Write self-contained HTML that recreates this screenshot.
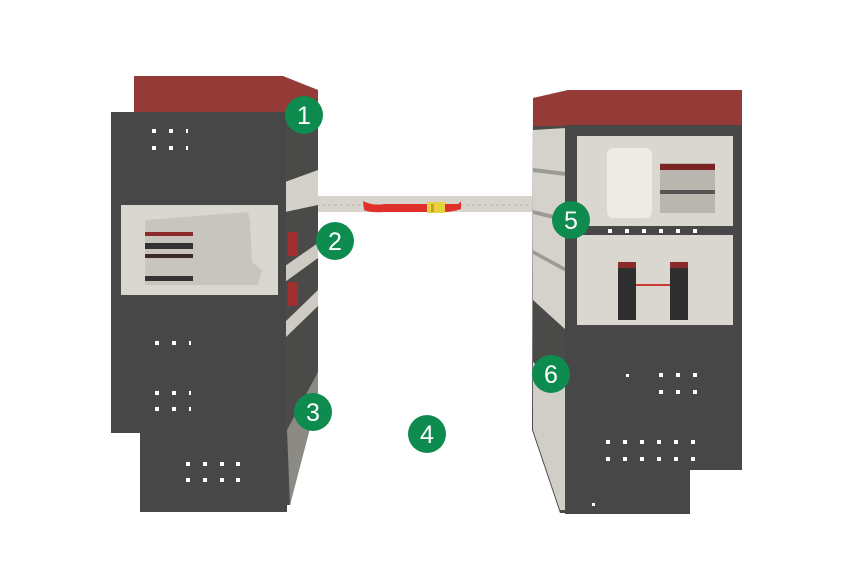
<!DOCTYPE html>
<html><head><meta charset="utf-8"><style>html,body{margin:0;padding:0;background:#fff}svg{display:block}</style></head>
<body>
<svg width="860" height="580" viewBox="0 0 860 580" xmlns="http://www.w3.org/2000/svg" font-family="Liberation Sans, sans-serif">
<!-- beam -->
<rect x="316" y="196" width="216" height="16" fill="#d6d4cc"/>
<line x1="316" y1="205" x2="532" y2="205" stroke="#b5b3ab" stroke-width="1" stroke-dasharray="3 3"/>
<path d="M363 201 Q372 206 385 204 L428 204 L428 212 L385 212 Q370 213 364 210 Z" fill="#e0302a"/>
<path d="M444 204 L458 204 Q461 202 461 201 L461 209 Q452 212 444 212 Z" fill="#e0302a"/>
<rect x="427" y="202" width="18" height="11" fill="#e6d23a"/>
<rect x="431" y="204" width="3" height="8" fill="#c9a020"/>
<!-- LEFT UNIT -->
<polygon points="283,77 318,90 318,380 290,505 283,505" fill="#4a4a48"/>
<polygon points="285,182 318,170 318,205 285,212" fill="#d3d1c9"/>
<polygon points="285,266 318,243 318,258 285,282" fill="#cdcbc3"/>
<polygon points="285,322 318,290 318,306 285,338" fill="#cdcbc3"/>
<polygon points="287,430 318,372 318,398 290,505" fill="#8c8a84"/>
<rect x="288" y="232" width="10" height="24" fill="#a03030"/>
<rect x="288" y="282" width="10" height="24" fill="#a03030"/>
<polygon points="134,76 283,76 318,90 318,108 283,112 134,112" fill="#943a37"/>
<rect x="111" y="112" width="175" height="321" fill="#464746"/>
<rect x="140" y="432" width="147" height="80" fill="#464746"/>
<rect x="121" y="205" width="157" height="90" fill="#d9d7d0"/>
<polygon points="145,220 198,216 248,212 250,222 252,262 262,270 258,285 145,285" fill="#c7c5bd"/>
<rect x="145" y="232" width="48" height="4" fill="#8a2a2a"/>
<rect x="145" y="243" width="48" height="6" fill="#333"/>
<rect x="145" y="254" width="48" height="4" fill="#3a2a2a"/>
<rect x="145" y="276" width="48" height="5" fill="#333"/>
<g fill="#fff">
<rect x="152" y="129" width="4" height="4"/><rect x="169" y="129" width="4" height="4"/><rect x="186" y="129" width="2" height="4"/>
<rect x="152" y="146" width="4" height="4"/><rect x="169" y="146" width="4" height="4"/><rect x="186" y="146" width="2" height="4"/>
<rect x="155" y="341" width="4" height="4"/><rect x="172" y="341" width="4" height="4"/><rect x="189" y="341" width="2" height="4"/>
<rect x="155" y="391" width="4" height="4"/><rect x="172" y="391" width="4" height="4"/><rect x="189" y="391" width="2" height="4"/>
<rect x="155" y="407" width="4" height="4"/><rect x="172" y="407" width="4" height="4"/><rect x="189" y="407" width="2" height="4"/>
<rect x="186" y="462" width="4" height="4"/><rect x="203" y="462" width="4" height="4"/><rect x="220" y="462" width="4" height="4"/><rect x="236" y="462" width="4" height="4"/>
<rect x="186" y="478" width="4" height="4"/><rect x="203" y="478" width="4" height="4"/><rect x="220" y="478" width="4" height="4"/><rect x="236" y="478" width="4" height="4"/>
</g>
<!-- RIGHT UNIT -->
<polygon points="533,98 568,92 568,513 560,513 532,430" fill="#4a4a48"/>
<polygon points="533,130 566,128 566,330 533,300" fill="#d4d2ca"/>
<polygon points="533,168 566,172 566,176 533,172" fill="#9c9a94"/>
<polygon points="533,210 566,218 566,222 533,214" fill="#9c9a94"/>
<polygon points="533,250 566,268 566,272 533,254" fill="#9c9a94"/>
<polygon points="533,362 566,388 566,510 560,510 533,430" fill="#d0cec6"/>
<polygon points="533,98 568,90 742,90 742,125 568,126 533,126" fill="#943a37"/>
<rect x="565" y="125" width="177" height="345" fill="#464746"/>
<rect x="565" y="469" width="125" height="45" fill="#464746"/>
<rect x="577" y="136" width="156" height="90" fill="#d9d7d0"/>
<rect x="607" y="148" width="45" height="70" rx="6" fill="#ecebe6"/>
<rect x="660" y="163" width="55" height="50" fill="#b8b6ae"/>
<rect x="660" y="164" width="55" height="6" fill="#7a2424"/>
<rect x="660" y="190" width="55" height="4" fill="#555"/>
<rect x="577" y="235" width="156" height="90" fill="#d9d7d0"/>
<rect x="618" y="262" width="18" height="58" fill="#2e2e2e"/>
<rect x="618" y="262" width="18" height="6" fill="#8a2a2a"/>
<rect x="670" y="262" width="18" height="58" fill="#2e2e2e"/>
<rect x="670" y="262" width="18" height="6" fill="#8a2a2a"/>
<rect x="636" y="284" width="34" height="2" fill="#c83a30"/>
<g fill="#fff">
<rect x="608" y="229" width="4" height="4"/><rect x="625" y="229" width="4" height="4"/><rect x="642" y="229" width="4" height="4"/><rect x="659" y="229" width="4" height="4"/><rect x="676" y="229" width="4" height="4"/><rect x="693" y="229" width="4" height="4"/>
<rect x="626" y="374" width="3" height="3"/>
<rect x="659" y="373" width="4" height="4"/><rect x="676" y="373" width="4" height="4"/><rect x="693" y="373" width="4" height="4"/>
<rect x="659" y="390" width="4" height="4"/><rect x="676" y="390" width="4" height="4"/><rect x="693" y="390" width="4" height="4"/>
<rect x="606" y="440" width="4" height="4"/><rect x="623" y="440" width="4" height="4"/><rect x="640" y="440" width="4" height="4"/><rect x="657" y="440" width="4" height="4"/><rect x="674" y="440" width="4" height="4"/><rect x="691" y="440" width="4" height="4"/>
<rect x="606" y="457" width="4" height="4"/><rect x="623" y="457" width="4" height="4"/><rect x="640" y="457" width="4" height="4"/><rect x="657" y="457" width="4" height="4"/><rect x="674" y="457" width="4" height="4"/><rect x="691" y="457" width="4" height="4"/>
<rect x="592" y="503" width="3" height="3"/>
</g>
<!-- badges -->
<g fill="#0e8b4f">
<circle cx="304" cy="115" r="19"/><circle cx="335" cy="241" r="19"/><circle cx="313" cy="412" r="19"/>
<circle cx="427" cy="434" r="19"/><circle cx="571" cy="220" r="19"/><circle cx="551" cy="374" r="19"/>
</g>
<g fill="#fff" font-size="25" text-anchor="middle">
<text x="304" y="124">1</text><text x="335" y="250">2</text><text x="313" y="421">3</text>
<text x="427" y="443">4</text><text x="571" y="229">5</text><text x="551" y="383">6</text>
</g>
</svg>
</body></html>
